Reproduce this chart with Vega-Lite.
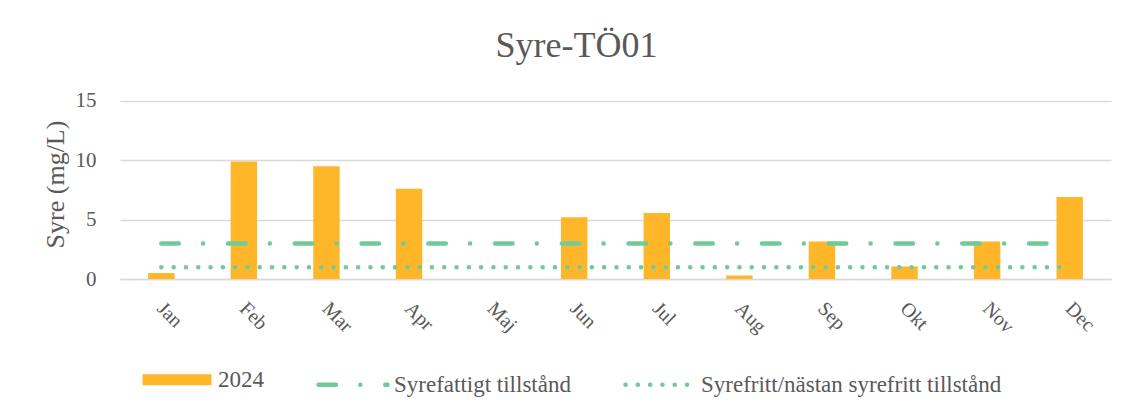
{
  "$schema": "https://vega.github.io/schema/vega-lite/v6.json",
  "autosize": {"type": "fit", "contains": "padding"},
  "width": 1132,
  "height": 414,
  "padding": {"left": 42, "top": 28, "right": 21, "bottom": 12},
  "background": "white",
  "config": {"view": {"stroke": null}, "font": "Liberation Serif"},
  "title": {"text": "Syre-TÖ01", "fontSize": 36, "font": "Liberation Serif", "fontWeight": "normal", "color": "#595959", "offset": 24, "frame": "bounds", "anchor": "middle"},
  "data": {"values": [
    {"month": "Jan", "value": 0.5, "syrefattigt": 3, "syrefritt": 1},
    {"month": "Feb", "value": 9.9, "syrefattigt": 3, "syrefritt": 1},
    {"month": "Mar", "value": 9.5, "syrefattigt": 3, "syrefritt": 1},
    {"month": "Apr", "value": 7.6, "syrefattigt": 3, "syrefritt": 1},
    {"month": "Maj", "value": null, "syrefattigt": 3, "syrefritt": 1},
    {"month": "Jun", "value": 5.2, "syrefattigt": 3, "syrefritt": 1},
    {"month": "Jul", "value": 5.55, "syrefattigt": 3, "syrefritt": 1},
    {"month": "Aug", "value": 0.3, "syrefattigt": 3, "syrefritt": 1},
    {"month": "Sep", "value": 3.15, "syrefattigt": 3, "syrefritt": 1},
    {"month": "Okt", "value": 1.05, "syrefattigt": 3, "syrefritt": 1},
    {"month": "Nov", "value": 3.15, "syrefattigt": 3, "syrefritt": 1},
    {"month": "Dec", "value": 6.9, "syrefattigt": 3, "syrefritt": 1}
  ]},
  "encoding": {
    "x": {"field": "month", "type": "nominal",
      "sort": ["Jan", "Feb", "Mar", "Apr", "Maj", "Jun", "Jul", "Aug", "Sep", "Okt", "Nov", "Dec"],
      "scale": {"domain": ["Jan", "Feb", "Mar", "Apr", "Maj", "Jun", "Jul", "Aug", "Sep", "Okt", "Nov", "Dec"], "paddingInner": 0.68, "paddingOuter": 0.34},
      "axis": {"title": null, "labelAngle": 45, "labelFontSize": 20, "labelFont": "Liberation Serif", "labelColor": "#595959", "ticks": false, "domainColor": "#d9d9d9", "domainWidth": 1.5, "labelPadding": 19, "labelOffset": 6, "grid": false}}
  },
  "layer": [
    {"mark": {"type": "bar"},
     "encoding": {
       "y": {"field": "value", "type": "quantitative", "scale": {"domain": [0, 15]},
         "axis": {"title": "Syre (mg/L)", "values": [0, 5, 10, 15], "titleFontSize": 26, "titleFont": "Liberation Serif", "titleFontWeight": "normal", "titleColor": "#595959", "labelFontSize": 21, "labelFont": "Liberation Serif", "labelColor": "#595959", "ticks": false, "domain": false, "gridColor": "#d9d9d9", "gridWidth": 1.5, "labelPadding": 24, "titlePadding": 7}},
       "color": {"datum": "2024", "type": "nominal",
         "scale": {"domain": ["2024", "Syrefattigt tillstånd", "Syrefritt/nästan syrefritt tillstånd"], "range": ["#FFB628", "#70CB98", "#70CB98"]},
         "legend": {"title": null, "orient": "bottom", "direction": "horizontal", "symbolType": "stroke", "symbolSize": 4761, "symbolStrokeWidth": 4.5, "labelFontSize": 23, "labelFont": "Liberation Serif", "labelColor": "#595959", "labelLimit": 500, "columnPadding": 32, "symbolOffset": 45.5, "labelOffset": 29.5, "offset": 31,
           "encode": {"symbols": {"update": {
             "stroke": {"signal": "datum.value === '2024' ? '#FFB628' : '#70CB98'"},
             "fill": {"value": "transparent"},
             "strokeWidth": {"signal": "datum.value === '2024' ? 11 : 4.5"},
             "strokeCap": {"signal": "datum.value === '2024' ? 'butt' : 'round'"},
             "strokeDash": {"signal": "datum.value === 'Syrefattigt tillstånd' ? [17.5, 24.25, 0.1, 24.9] : (datum.value === '2024' ? [] : [0.1, 12.2])"}
           }}}}}
     }},
    {"mark": {"type": "line", "strokeWidth": 4.5, "strokeCap": "round", "strokeDash": [17.5, 24.25, 0.1, 24.9]},
     "encoding": {
       "y": {"field": "syrefattigt", "type": "quantitative", "axis": {"title": "Syre (mg/L)"}},
       "color": {"datum": "Syrefattigt tillstånd", "type": "nominal"}
     }},
    {"mark": {"type": "line", "strokeWidth": 4.5, "strokeCap": "round", "strokeDash": [0.1, 12.2]},
     "encoding": {
       "y": {"field": "syrefritt", "type": "quantitative", "axis": {"title": "Syre (mg/L)"}},
       "color": {"datum": "Syrefritt/nästan syrefritt tillstånd", "type": "nominal"}
     }}
  ]
}
